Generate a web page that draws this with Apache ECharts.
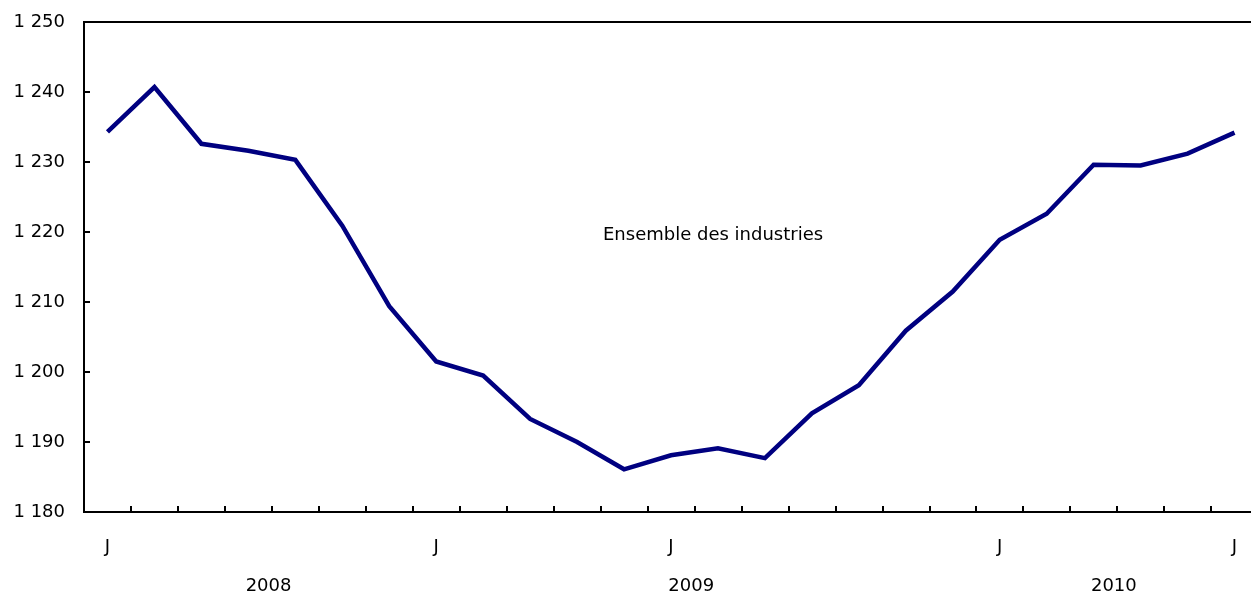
<!DOCTYPE html>
<html>
<head>
<meta charset="utf-8">
<script src="https://cdn.jsdelivr.net/npm/echarts@6/dist/echarts.min.js"></script>
<style>
html,body{margin:0;padding:0;background:#fff;overflow:hidden;width:1251px;height:595px;}
#c{width:1258px;height:595px;}
</style>
</head>
<body>
<div id="c"></div>
<script>
// Months from June 2008 to June 2010
var months = ['2008-06','2008-07','2008-08','2008-09','2008-10','2008-11','2008-12',
  '2009-01','2009-02','2009-03','2009-04','2009-05','2009-06','2009-07','2009-08','2009-09','2009-10','2009-11','2009-12',
  '2010-01','2010-02','2010-03','2010-04','2010-05','2010-06'];
var monthLabels = ['J','','','','','','','J','','','','','J','','','','','','','J','','','','','J'];
var values = [1234.3,1240.7,1232.6,1231.6,1230.3,1220.9,1209.4,1201.5,1199.5,1193.3,1190.0,1186.1,
  1188.1,1189.1,1187.7,1194.1,1198.1,1205.9,1211.5,1218.9,1222.6,1229.6,1229.5,1231.2,1234.2];
var yTicks = [1180,1190,1200,1210,1220,1230,1240,1250];
var yearLabels = ['2008','2009','2010'];
var seriesName = 'Ensemble des industries';

var FONT = 'DejaVu Sans';
function fmtThousands(v){
  var s = String(v);
  return s.length > 3 ? s.slice(0, s.length-3) + ' ' + s.slice(s.length-3) : s;
}
var yearPos = [3.43, 12.43, 21.43];

var chart = echarts.init(document.getElementById('c'), null, {renderer:'canvas'});
chart.setOption({
  animation:false,
  backgroundColor:'#fff',
  grid:{left:84, right:0, top:22, bottom:82, show:true, borderColor:'#000', borderWidth:2, backgroundColor:'transparent'},
  xAxis:[{
    type:'category',
    data:months,
    boundaryGap:true,
    axisLine:{show:true, onZero:false, lineStyle:{color:'#000', width:2}},
    axisTick:{show:true, inside:true, length:6, interval:0, lineStyle:{color:'#000', width:2}},
    axisLabel:{interval:0, margin:26, color:'#000', fontFamily:FONT, fontSize:18,
      formatter:function(v, i){ return monthLabels[i]; }},
    splitLine:{show:false}
  },{
    type:'value',
    position:'bottom',
    min:-0.5, max:months.length-0.5,
    axisLine:{show:false, onZero:false}, axisTick:{show:false}, splitLine:{show:false},
    axisLabel:{show:true, margin:65, color:'#000', fontFamily:FONT, fontSize:18,
      customValues:yearPos,
      formatter:function(v){ var k = yearPos.indexOf(v); return k >= 0 ? yearLabels[k] : ''; }}
  }],
  yAxis:{
    type:'value',
    min:yTicks[0], max:yTicks[yTicks.length-1], interval:10,
    axisLine:{show:true, onZero:false, lineStyle:{color:'#000', width:2}},
    axisTick:{show:true, inside:true, length:6, lineStyle:{color:'#000', width:2}},
    axisLabel:{margin:19, color:'#000', fontFamily:FONT, fontSize:18, formatter:fmtThousands},
    splitLine:{show:false}
  },
  graphic:[{
    type:'text', left:603, top:226,
    style:{text:seriesName, fill:'#000', font:'18px "DejaVu Sans"'}
  }],
  series:[{
    name:seriesName,
    type:'line',
    data:values,
    xAxisIndex:0,
    symbol:'none',
    lineStyle:{color:'#000080', width:4.5, join:'miter'},
    itemStyle:{color:'#000080'}
  }]
});
</script>
</body>
</html>
